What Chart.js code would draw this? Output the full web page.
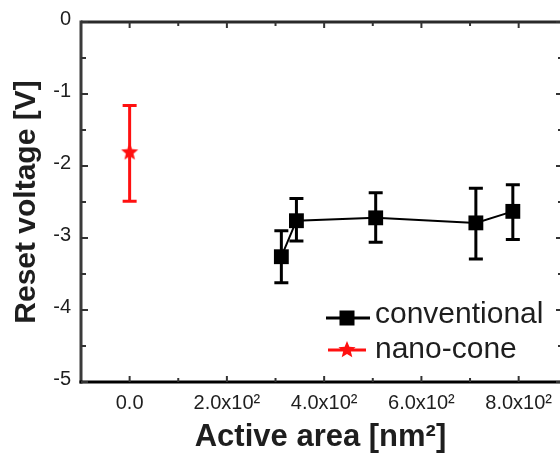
<!DOCTYPE html>
<html>
<head>
<meta charset="utf-8">
<script src="https://cdn.jsdelivr.net/npm/chart.js@4.4.1/dist/chart.umd.min.js"></script>
<style>
  html, body { margin: 0; padding: 0; background: #ffffff; }
  #wrap { width: 560px; height: 453px; position: relative; }
</style>
</head>
<body>
<div id="wrap"><canvas id="c" width="560" height="453"></canvas></div>
<script>
// ---- data ----
const convX      = [312, 343, 506, 712, 788];
const convY      = [-3.26, -2.76, -2.72, -2.79, -2.63];
const convErrHi  = [-2.90, -2.45, -2.37, -2.31, -2.26];
const convErrLo  = [-3.62, -3.04, -3.06, -3.29, -3.02];

const nanoX      = [0];
const nanoY      = [-1.81];
const nanoErrHi  = [-1.16];
const nanoErrLo  = [-2.49];

const xMajorTicks  = [0, 200, 400, 600, 800];
const xTickLabels  = ["0.0", "2.0x10\u00B2", "4.0x10\u00B2", "6.0x10\u00B2", "8.0x10\u00B2"];
const xMinorTicks  = [100, 300, 500, 700];
const yMajorTicks  = [0, -1, -2, -3, -4, -5];
const yTickLabels  = ["0", "-1", "-2", "-3", "-4", "-5"];
const yMinorTicks  = [-0.5, -1.5, -2.5, -3.5, -4.5];

const seriesNames  = ["conventional", "nano-cone"];

// ---- styles ----
const FONT = "'Liberation Sans', Arial, sans-serif";
const TEXT = "#1e1e1e";
const RED = "#ff1010";

// filled five-point star used as point style
function makeStar(outer, inner, color) {
  const s = Math.ceil(outer * 2) + 2;
  const cv = document.createElement('canvas');
  cv.width = s; cv.height = s;
  const g = cv.getContext('2d');
  g.fillStyle = color;
  g.beginPath();
  for (let i = 0; i < 10; i++) {
    const r = i % 2 === 0 ? outer : inner;
    const a = -Math.PI / 2 + i * Math.PI / 5;
    const px = s / 2 + r * Math.cos(a), py = s / 2 + r * Math.sin(a);
    if (i === 0) g.moveTo(px, py); else g.lineTo(px, py);
  }
  g.closePath();
  g.fill();
  return cv;
}
const starImg = makeStar(9, 4, RED);

const convData = convX.map((x, i) => ({ x: x, y: convY[i] }));
const nanoData = nanoX.map((x, i) => ({ x: x, y: nanoY[i] }));

const errorBars = {
  id: 'errorBars',
  beforeDatasetsDraw(chart) {
    const { ctx, scales: { x, y } } = chart;
    const sets = [
      { xs: convX, hi: convErrHi, lo: convErrLo, color: '#000000', w: 3, cap: 7 },
      { xs: nanoX, hi: nanoErrHi, lo: nanoErrLo, color: RED, w: 3, cap: 7 }
    ];
    ctx.save();
    sets.forEach(s => {
      ctx.strokeStyle = s.color;
      ctx.lineWidth = s.w;
      s.xs.forEach((xv, i) => {
        const px = x.getPixelForValue(xv);
        const pt = y.getPixelForValue(s.hi[i]);
        const pb = y.getPixelForValue(s.lo[i]);
        ctx.beginPath();
        ctx.moveTo(px, pt); ctx.lineTo(px, pb);
        ctx.moveTo(px - s.cap, pt); ctx.lineTo(px + s.cap, pt);
        ctx.moveTo(px - s.cap, pb); ctx.lineTo(px + s.cap, pb);
        ctx.stroke();
      });
    });
    ctx.restore();
  }
};

const frameAndLegend = {
  id: 'frameAndLegend',
  afterDraw(chart) {
    const { ctx, chartArea: a, scales: { x, y } } = chart;
    const R = a.right + 2;
    ctx.save();
    // frame
    ctx.lineWidth = 3;
    ctx.strokeStyle = '#2a2a2a';
    ctx.beginPath(); ctx.moveTo(a.left, a.top); ctx.lineTo(R, a.top); ctx.stroke();
    ctx.strokeStyle = '#3a3a3a';
    ctx.beginPath(); ctx.moveTo(a.left, a.top - 1.5); ctx.lineTo(a.left, a.bottom + 1.5); ctx.stroke();
    ctx.strokeStyle = '#000000';
    ctx.beginPath(); ctx.moveTo(a.left - 1.5, a.bottom); ctx.lineTo(R, a.bottom); ctx.stroke();
    ctx.beginPath(); ctx.moveTo(R, a.top); ctx.lineTo(R, a.bottom); ctx.stroke();

    // inward ticks
    ctx.strokeStyle = '#333333';
    ctx.lineWidth = 2;
    const tick = (x1, y1, x2, y2) => { ctx.beginPath(); ctx.moveTo(x1, y1); ctx.lineTo(x2, y2); ctx.stroke(); };
    xMajorTicks.forEach(v => { const p = x.getPixelForValue(v); tick(p, a.bottom, p, a.bottom - 6); tick(p, a.top, p, a.top + 6); });
    xMinorTicks.forEach(v => { const p = x.getPixelForValue(v); tick(p, a.bottom, p, a.bottom - 4); tick(p, a.top, p, a.top + 4); });
    yMajorTicks.forEach(v => { const p = y.getPixelForValue(v); tick(a.left, p, a.left + 7, p); tick(R, p, R - 6, p); });
    yMinorTicks.forEach(v => { const p = y.getPixelForValue(v); tick(a.left, p, a.left + 5, p); tick(R, p, R - 4, p); });

    // legend
    const lx = a.right - 213, ly1 = a.bottom - 64, ly2 = a.bottom - 32;
    ctx.strokeStyle = '#000000';
    ctx.lineWidth = 3;
    tick(lx - 21, ly1, lx + 23, ly1);
    ctx.fillStyle = '#000000';
    ctx.fillRect(lx - 7.5, ly1 - 7.5, 15, 15);
    ctx.strokeStyle = RED;
    ctx.lineWidth = 3;
    tick(lx - 19, ly2, lx + 19, ly2);
    ctx.drawImage(starImg, lx - starImg.width / 2, ly2 - starImg.height / 2);
    ctx.fillStyle = TEXT;
    ctx.font = "30px " + FONT;
    ctx.textAlign = 'left';
    ctx.textBaseline = 'alphabetic';
    ctx.fillText(seriesNames[0], lx + 28, ly1 + 5);
    ctx.fillText(seriesNames[1], lx + 28, ly2 + 8);
    ctx.restore();
  }
};

new Chart(document.getElementById('c'), {
  type: 'line',
  data: {
    datasets: [
      {
        label: seriesNames[0],
        data: convData,
        borderColor: '#000000',
        backgroundColor: '#000000',
        borderWidth: 2,
        pointStyle: 'rect',
        pointRadius: 10.5,
        pointBorderWidth: 0,
        showLine: true,
        tension: 0
      },
      {
        label: seriesNames[1],
        data: nanoData,
        borderColor: RED,
        backgroundColor: RED,
        pointStyle: starImg,
        pointRadius: 9,
        showLine: false
      }
    ]
  },
  options: {
    responsive: false,
    animation: false,
    events: [],
    layout: { autoPadding: false, padding: { top: 22, right: 0, left: 0, bottom: 0 } },
    plugins: { legend: { display: false }, tooltip: { enabled: false } },
    scales: {
      x: {
        type: 'linear',
        min: -100,
        max: 885,
        grid: { display: false, drawTicks: false },
        border: { display: false },
        afterBuildTicks: s => { s.ticks = xMajorTicks.map(v => ({ value: v })); },
        afterFit: s => { s.height = 71; s.paddingRight = 0; s.paddingLeft = 0; },
        ticks: {
          autoSkip: false,
          maxRotation: 0,
          padding: 9,
          color: TEXT,
          font: { family: FONT, size: 20 },
          callback: (v, i) => xTickLabels[i]
        },
        title: {
          display: true,
          text: 'Active area [nm\u00B2]',
          color: TEXT,
          font: { family: FONT, size: 31, weight: 'bold', lineHeight: 1.0 },
          padding: { top: 0, bottom: 0 }
        }
      },
      y: {
        min: -5,
        max: 0,
        grid: { display: false, drawTicks: false },
        border: { display: false },
        afterBuildTicks: s => { s.ticks = yMajorTicks.map(v => ({ value: v })); },
        afterFit: s => { s.width = 81; s.paddingTop = 0; s.paddingBottom = 0; },
        ticks: {
          autoSkip: false,
          padding: 10,
          labelOffset: -3,
          color: TEXT,
          font: { family: FONT, size: 20 },
          callback: (v, i) => yTickLabels[i]
        },
        title: {
          display: true,
          text: 'Reset voltage [V]',
          color: TEXT,
          font: { family: FONT, size: 30, weight: 'bold', lineHeight: 1.0 },
          padding: { top: 12, bottom: 0 }
        }
      }
    }
  },
  plugins: [errorBars, frameAndLegend]
});
</script>
</body>
</html>
